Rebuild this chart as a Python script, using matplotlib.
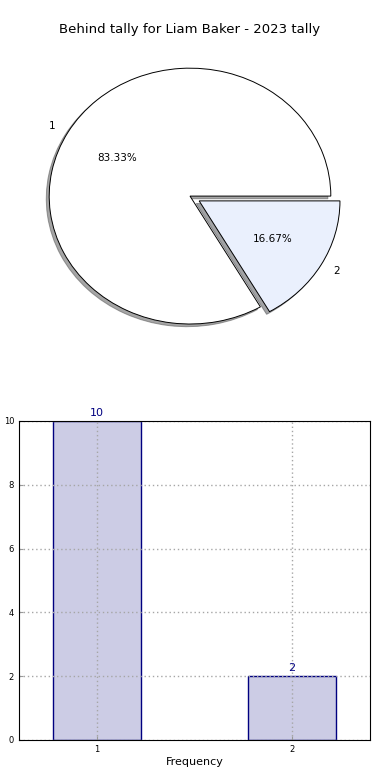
import matplotlib.pyplot as plt
from matplotlib.colors import to_rgba

# datos
pie_labels = ['1', '2']
pie_values = [10, 2]
pie_colors = ['white', '#eaf0fd']

bar_cats = [1, 2]
bar_values = [10, 2]

fig = plt.figure(figsize=(3.9, 7.8), dpi=100)

# Pie (elipse, sin aspecto igual)
ax1 = fig.add_axes([0.0359, 0.5436, 0.9026, 0.41])
wedges, texts, autotexts = ax1.pie(pie_values, labels=pie_labels, colors=pie_colors,
                                   autopct='%.2f%%', explode=[0, 0.075],
                                   shadow={'ox': -0.015, 'oy': -0.015},
                                   startangle=0, counterclock=True,
                                   wedgeprops={'edgecolor': 'black', 'linewidth': 0.7},
                                   textprops={'fontsize': 7.5})
ax1.set_aspect('auto')
ax1.set_title('Behind tally for Liam Baker - 2023 tally', fontsize=9.5, pad=1.5)

# Barras
ax2 = fig.add_axes([0.0487, 0.0513, 0.9, 0.409])
bars = ax2.bar(bar_cats, bar_values, width=0.45,
               color=to_rgba('navy', 0.2), edgecolor='navy', linewidth=1)
ax2.bar_label(bars, color='navy', fontsize=8, padding=2)
ax2.set_xlim(0.6, 2.4)
ax2.set_ylim(0, 10)
ax2.set_xticks(bar_cats)
ax2.set_yticks([0, 2, 4, 6, 8, 10])
ax2.tick_params(labelsize=6, direction='in', length=3, color='0.6')
ax2.grid(True, linestyle=(0, (1, 2)), color='0.65', linewidth=1)
ax2.set_axisbelow(False)
for s in ax2.spines.values():
    s.set_zorder(3)
ax2.set_xlabel('Frequency', fontsize=8, labelpad=2)
ax2.set_ylabel('Behind tally', fontsize=8)
ax2.yaxis.set_label_coords(-0.075, 0.5)

fig.savefig('out.png', dpi=100)
